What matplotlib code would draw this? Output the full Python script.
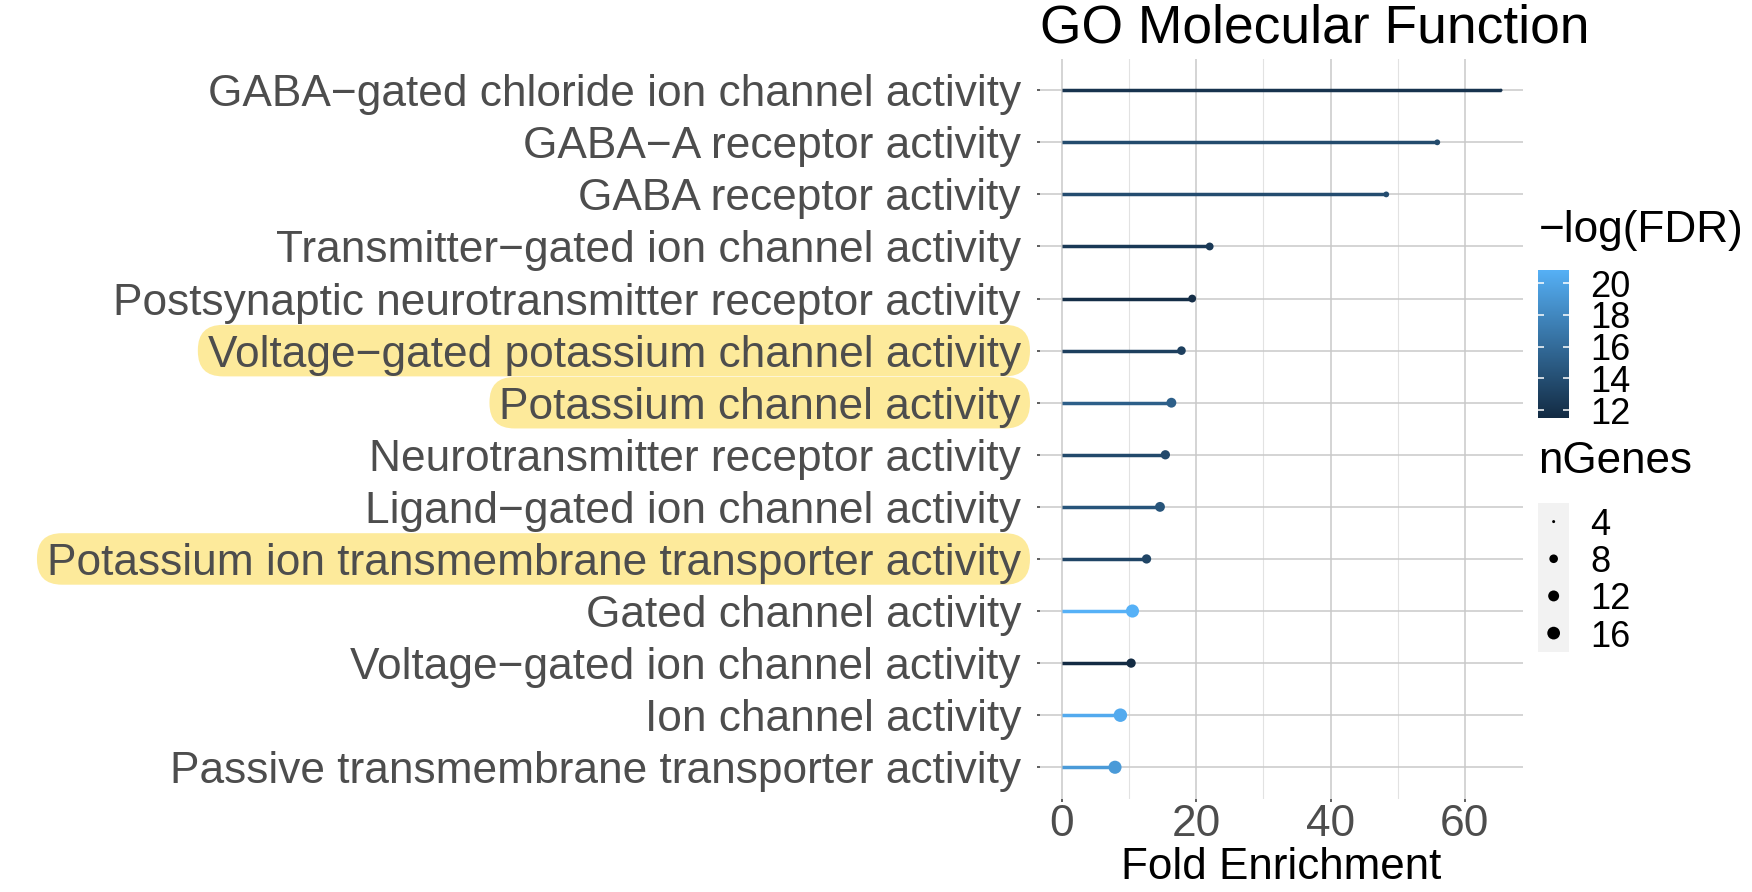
import numpy as np
import matplotlib
matplotlib.use("Agg")
import matplotlib.pyplot as plt
from matplotlib.colors import LinearSegmentedColormap, Normalize
from matplotlib.patches import FancyBboxPatch
from matplotlib.transforms import IdentityTransform

plt.rcParams['font.family'] = ['Liberation Sans', 'DejaVu Sans']

# data, top row first
terms = [
    "GABA\u2212gated chloride ion channel activity",
    "GABA\u2212A receptor activity",
    "GABA receptor activity",
    "Transmitter\u2212gated ion channel activity",
    "Postsynaptic neurotransmitter receptor activity",
    "Voltage\u2212gated potassium channel activity",
    "Potassium channel activity",
    "Neurotransmitter receptor activity",
    "Ligand\u2212gated ion channel activity",
    "Potassium ion transmembrane transporter activity",
    "Gated channel activity",
    "Voltage\u2212gated ion channel activity",
    "Ion channel activity",
    "Passive transmembrane transporter activity",
]
fold_enrichment = [65.4, 55.9, 48.3, 22.0, 19.4, 17.8, 16.3, 15.4, 14.6, 12.6, 10.5, 10.3, 8.7, 7.9]
neg_log_fdr = [12.1, 13.7, 13.8, 12.5, 11.7, 12.9, 15.1, 13.6, 14.35, 13.3, 20.84, 11.48, 20.35, 19.2]
n_genes = [4, 5, 5, 7, 7, 8, 10, 9, 10, 9, 17, 9, 18, 17]
highlighted = [
    "Voltage\u2212gated potassium channel activity",
    "Potassium channel activity",
    "Potassium ion transmembrane transporter activity",
]
fdr_ticks = [12, 14, 16, 18, 20]
size_breaks = [4, 8, 12, 16]

W, H = 1752, 892
DPI = 100
fig = plt.figure(figsize=(W / DPI, H / DPI), dpi=DPI)
fig.patch.set_facecolor('white')

def px(x0, y0, x1, y1):
    # pixel box (top-left origin) -> figure fraction rect
    return [x0 / W, 1 - y1 / H, (x1 - x0) / W, (y1 - y0) / H]

cmap = LinearSegmentedColormap.from_list('gg', ['#132B43', '#56B1F7'])
norm = Normalize(vmin=min(neg_log_fdr), vmax=max(neg_log_fdr))

lo, hi = min(n_genes), max(n_genes)
def diam(n):
    # point diameter in pixels, area-like scaling
    return 3 + 10.5 * np.sqrt((np.asarray(n, float) - lo) / (hi - lo))

def s_of(n):
    return (diam(n) * 72 / DPI) ** 2

ax = fig.add_axes(px(1040, 59, 1523, 798.5))
n = len(terms)
y = np.arange(n)[::-1]
cols = cmap(norm(neg_log_fdr))

ax.hlines(y, 0, fold_enrichment, colors=cols, lw=2.5, zorder=3)
ax.scatter(fold_enrichment, y, s=s_of(n_genes), c=cols, linewidths=0, zorder=4)

span = max(fold_enrichment) - 0
ax.set_xlim(-0.05 * span, max(fold_enrichment) + 0.05 * span)
ax.set_ylim(-0.6, n - 1 + 0.6)
ax.set_xticks([0, 20, 40, 60])
ax.set_xticks([10, 30, 50], minor=True)
ax.set_yticks(y)
ax.set_yticklabels(terms)
ax.grid(True, which='major', color='#C9C9C9', lw=1.1)
ax.grid(True, which='minor', axis='x', color='#E2E2E2', lw=0.8)
ax.set_axisbelow(True)
for sp in ax.spines.values():
    sp.set_visible(False)
ax.tick_params(axis='both', which='major', length=2.4, width=1.1, color='#333333',
               labelcolor='#4D4D4D', labelsize=31.9)
ax.tick_params(axis='y', pad=11.3)
ax.tick_params(axis='x', pad=1.5)
ax.tick_params(which='minor', length=0)
for lbl in ax.get_yticklabels():
    lbl.set_va('center_baseline')

fig.text(1040 / W, 1 - 42.9 / H, "GO Molecular Function", fontsize=38.4,
         ha='left', va='baseline', color='black')
fig.text((1040 + 1523) / 2 / W, 1 - 879 / H, "Fold Enrichment", fontsize=31.7,
         ha='center', va='baseline', color='black')

# colour legend
fig.text(1539 / W, 1 - 241.7 / H, "\u2212log(FDR)", fontsize=31.8, ha='left', va='baseline')
cax = fig.add_axes(px(1538.3, 270, 1569, 418.3))
grad = np.linspace(norm.vmin, norm.vmax, 256).reshape(-1, 1)
cax.imshow(grad, cmap=cmap, norm=norm, aspect='auto', origin='lower',
           extent=[0, 1, norm.vmin, norm.vmax])
cax.set_xlim(0, 1)
cax.set_ylim(norm.vmin, norm.vmax)
cax.hlines(fdr_ticks, 0, 0.2, color='white', lw=1.1)
cax.hlines(fdr_ticks, 0.8, 1, color='white', lw=1.1)
cax.set_xticks([])
cax.yaxis.tick_right()
cax.set_yticks(fdr_ticks)
cax.tick_params(axis='y', length=0, pad=15, labelsize=26, labelcolor='black')
for lbl in cax.get_yticklabels():
    lbl.set_va('center_baseline')
for sp in cax.spines.values():
    sp.set_visible(False)

# size legend
fig.text(1538 / W, 1 - 473.3 / H, "nGenes", fontsize=31.7, ha='left', va='baseline')
sax = fig.add_axes(px(1538.3, 503, 1569, 651.7))
sax.set_facecolor('#F2F2F2')
ky = np.arange(len(size_breaks))[::-1] + 0.5
sax.scatter([0.5] * len(size_breaks), ky, s=s_of(size_breaks), c='black', linewidths=0)
sax.set_xlim(0, 1)
sax.set_ylim(0, len(size_breaks))
for yy, b in zip(ky, size_breaks):
    sax.text((1590 - 1538.3) / 30.7, yy, str(b), transform=sax.get_yaxis_transform(),
             fontsize=26, ha='left', va='center_baseline', color='black')
sax.set_xticks([])
sax.set_yticks([])
for sp in sax.spines.values():
    sp.set_visible(False)

# yellow highlight behind some labels
fig.canvas.draw()
r = fig.canvas.get_renderer()
for lbl, yy in zip(ax.get_yticklabels(), y):
    if lbl.get_text() in highlighted:
        bb = lbl.get_window_extent(r)
        yc = ax.transData.transform((0, yy))[1]
        h = 51.5
        patch = FancyBboxPatch((bb.x0 - 10, yc - h / 2), bb.width + 19, h,
                               boxstyle='round,pad=0,rounding_size=25',
                               transform=IdentityTransform(), fc='#FDEA9B', ec='none')
        patch.set_zorder(-1)
        fig.add_artist(patch)

fig.savefig('out.png', dpi=DPI)
